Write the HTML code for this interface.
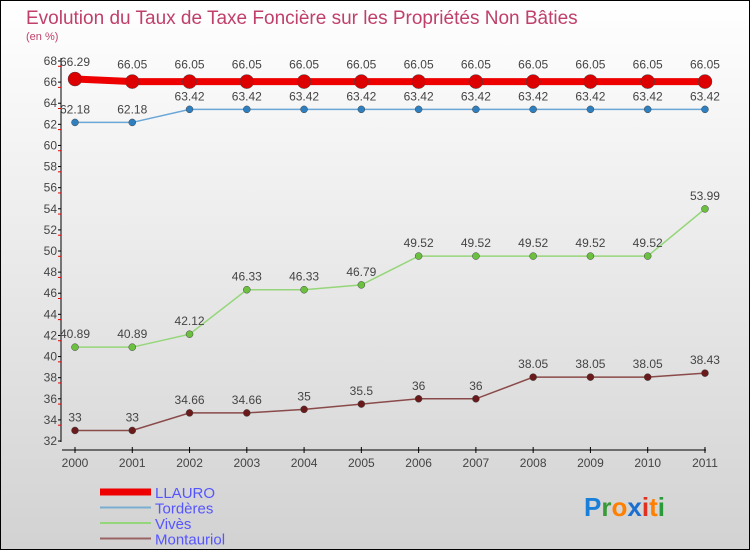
<!DOCTYPE html>
<html><head><meta charset="utf-8"><style>
body{margin:0}
svg{display:block;font-family:"Liberation Sans",sans-serif}
</style></head><body>
<svg id="c" width="750" height="550" xmlns="http://www.w3.org/2000/svg">
<defs><linearGradient id="bg" x1="0" y1="0" x2="0" y2="1"><stop offset="0" stop-color="#ffffff"/><stop offset="1" stop-color="#d2d2d2"/></linearGradient></defs>
<rect x="0.5" y="0.5" width="749" height="549" fill="url(#bg)" stroke="#000"/>
<text x="26" y="24" font-size="19" fill="#c0406a">Evolution du Taux de Taxe Foncière sur les Propriétés Non Bâties</text>
<text x="26" y="40" font-size="11" fill="#c0406a">(en %)</text>
<g id="axes"></g>
<g id="series"></g>
<g id="legend"></g>
<g font-size="26" font-weight="bold">
<text x="584" y="516"><tspan fill="#1a7fd8">P</tspan><tspan fill="#3a9a3a">r</tspan><tspan fill="#ff7f00">o</tspan><tspan fill="#1a6fd0">x</tspan><tspan fill="#e03020">i</tspan><tspan fill="#ff7f00">t</tspan><tspan fill="#2a9a3a">i</tspan></text>
</g>
</svg>
<script>
const years=["2000","2001","2002","2003","2004","2005","2006","2007","2008","2009","2010","2011"];
const yTicks=[32,34,36,38,40,42,44,46,48,50,52,54,56,58,60,62,64,66,68];
const llauro=[66.29,66.05,66.05,66.05,66.05,66.05,66.05,66.05,66.05,66.05,66.05,66.05];
const tordeves=[62.18,62.18,63.42,63.42,63.42,63.42,63.42,63.42,63.42,63.42,63.42,63.42];
const vives=[40.89,40.89,42.12,46.33,46.33,46.79,49.52,49.52,49.52,49.52,49.52,53.99];
const montauriol=[33,33,34.66,34.66,35,35.5,36,36,38.05,38.05,38.05,38.43];
const NS="http://www.w3.org/2000/svg";
const X=i=>75+i*57.27, Y=v=>61+(68-v)*10.556;
function mk(t,a,p){const e=document.createElementNS(NS,t);for(const k in a)e.setAttribute(k,a[k]);p.appendChild(e);return e;}
const ax=document.getElementById('axes');
let l=mk('line',{x1:61,y1:58,x2:61,y2:442,stroke:'#000'},ax);

l=mk('line',{x1:62,y1:450,x2:706,y2:450,stroke:'#000'},ax);

yTicks.forEach(v=>{const y=Y(v);
 mk('line',{x1:58,y1:y,x2:61,y2:y,stroke:'#000'},ax);
 if(v>32) mk('line',{x1:58,y1:y+5.28,x2:61,y2:y+5.28,stroke:'#e00'},ax);
 const t=mk('text',{x:57,y:y+4,'font-size':12,fill:'#444','text-anchor':'end'},ax);t.textContent=v;
 });
years.forEach((yr,i)=>{const x=X(i);
 mk('line',{x1:x,y1:447,x2:x,y2:453,stroke:'#000'},ax);
 const t=mk('text',{x:x,y:467,'font-size':12,fill:'#444','text-anchor':'middle'},ax);t.textContent=yr;
 });
const se=document.getElementById('series');
const S=[["llauro",llauro,"#ee0000","#dd0000",7,7],["torderes",tordeves,"#6aa6d6","#2e7fc0",1.5,3.5],["vives",vives,"#96d67a","#6cc040",1.5,3.5],["montauriol",montauriol,"#8a4a4a","#6a1a1a",1.5,3.5]];
S.forEach(([n,d,lc,pc,w,r])=>{
 const g=mk('g',{},se);
 mk('polyline',{points:d.map((v,i)=>X(i)+','+Y(v)).join(' '),fill:'none',stroke:lc,'stroke-width':w},g);
 d.forEach((v,i)=>{const c=mk('circle',{cx:X(i),cy:Y(v),r:r,fill:pc,stroke:'#444','stroke-width':0.5},g);
  
  const t=mk('text',{x:X(i),y:Y(v)-9-(r>4?4:0),'font-size':12,fill:'#444','text-anchor':'middle'},g);t.textContent=v;
  });
});
const lg=document.getElementById('legend');
[["LLAURO","#ee0000",7],["Tordères","#7aaed0",2],["Vivès","#96d67a",2],["Montauriol","#9a6464",2]].forEach(([n,c,w],i)=>{
 const y=492+i*15.5;
 const g=mk('g',{},lg);
 mk('line',{x1:100,y1:y,x2:151,y2:y,stroke:c,'stroke-width':w},g);
 const t=mk('text',{x:155,y:y+6,'font-size':15,fill:'#5555ff'},g);t.textContent=n;
});
</script>
</body></html>
